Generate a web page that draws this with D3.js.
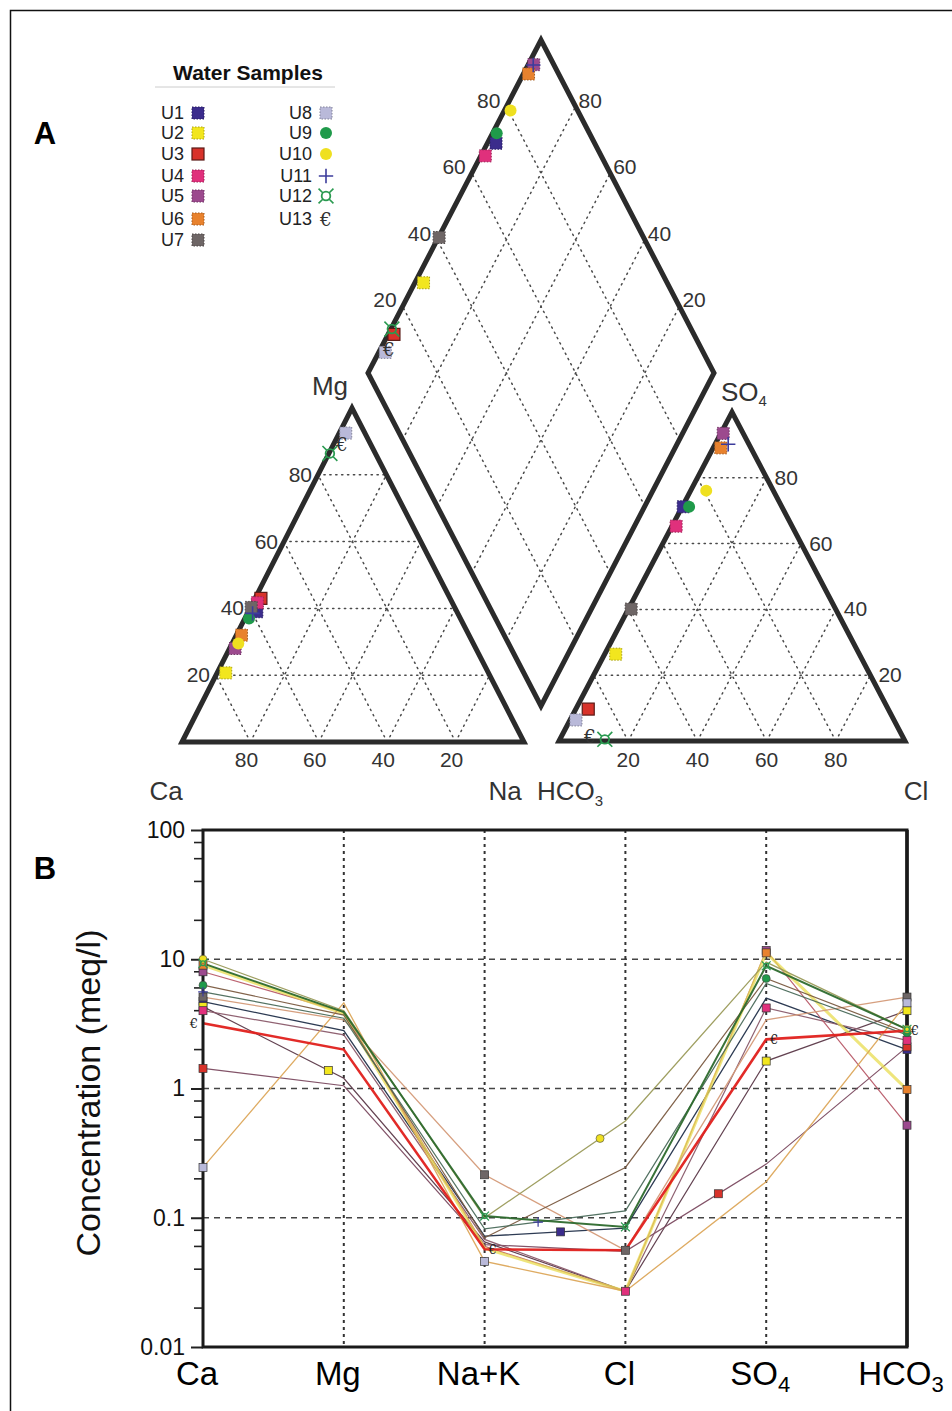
<!DOCTYPE html>
<html>
<head>
<meta charset="utf-8">
<script src="https://cdn.jsdelivr.net/npm/d3@7"></script>
<style>
body{margin:0;background:#fff;}
svg{display:block;font-family:"Liberation Sans",Arial,sans-serif;}
</style>
</head>
<body>
<svg id="chart" width="952" height="1411"></svg>
<script>
// ---- samples
var samples = ['U1','U2','U3','U4','U5','U6','U7','U8','U9','U10','U11','U12','U13'];
var colors  = ['#3b2c8c','#f2e61e','#d8322a','#e0307c','#9c4a8e','#e8822e','#6e6666','#b9b9d9','#1f9a4a','#efe020','#3c3c9c','#2a9a50','#333333'];
var shapes  = ['square','square','square','square','square','square','square','square','circle','circle','plus','ring','euro'];

// ---- piper, cations (%)
var catMg = [39, 20.7, 43, 41.7, 28, 32, 40.3, 92.5, 37, 29.5, 38.5, 86.4, 89];
var catNa = [2.5, 2.5, 1.7, 1.3, 1.6, 1.5, 0.2, 1.9, 1.2, 1.8, 1.5, 0.3, 2.5];
// ---- piper, anions (%)
var anSO4 = [71.2, 26.4, 9.7, 65.3, 93.5, 89.1, 40.1, 6.4, 71.2, 76.1, 90.2, 0.5, 1.3];
var anCl  = [0.3, 3.2, 3.6, 1.2, 0.7, 2.2, 0.8, 1.7, 2.0, 4.5, 3.8, 13, 8.3];
var piperTicks = [20, 40, 60, 80];

// ---- schoeller (meq/l)
var ions = ['Ca','Mg','Na+K','Cl','SO4','HCO3'];
var schCa   = [4.7, 4.3, 1.43, 4.0, 8.0, 9.0, 5.1, 0.245, 6.3, 10, 5.6, 9.3, 3.2];
var schMg   = [2.8, 1.2, 1.05, 2.6, 3.9, 3.8, 3.4, 4.6, 3.7, 4.0, 3.5, 3.9, 2.0];
var schNaK  = [0.072, 0.065, 0.062, 0.068, 0.06, 0.058, 0.215, 0.046, 0.07, 0.1, 0.082, 0.103, 0.057];
var schCl   = [0.083, 0.027, 0.055, 0.027, 0.027, 0.027, 0.056, 0.027, 0.245, 0.56, 0.113, 0.085, 0.056];
var schSO4  = [5.0, 1.63, 0.26, 4.2, 11.7, 11.2, 3.4, 0.19, 7.1, 9.5, 6.5, 8.9, 2.4];
var schHCO3 = [2.0, 4.0, 2.1, 2.36, 0.52, 0.98, 5.1, 4.6, 2.7, 2.87, 2.6, 2.87, 2.8];
var lineColors = ['#22304a','#5b3848','#7b4a60','#8a5a6a','#b85a68','#e8dc50','#d49a78','#dca65a','#7a5a40','#9a9a58','#4a6a5a','#2d6a2d','#e0201c'];
var lineWidths = [1.3, 1.2, 1.2, 1.2, 1.2, 3, 1.3, 1.3, 1.2, 1.3, 1.2, 2, 2.6];
// where the markers sit along each line (category index)
var markerPos = [[0,2.54,5],[0,0.89,4,5],[0,3.66,5],[0,3,4,5],[0,4,5],[0,4,5],[0,2,3,5],[0,2,5],[0,4,5],[0,2.82,5],[0,2.38],[0,2,3,4,5],[0,2,4,5]];
var yTicks = [0.01, 0.1, 1, 10, 100];

var svg = d3.select('#chart');
svg.append('rect').attr('x',10.5).attr('y',10.5).attr('width',950).attr('height',1410)
    .attr('fill','none').attr('stroke','#111').attr('stroke-width',1.5);

function marker(g, i, x, y, s, small){
    var shp = shapes[i], c = colors[i];
    if (shp == 'square'){
        var r = g.append('rect').attr('x',x-s/2).attr('y',y-s/2).attr('width',s).attr('height',s)
            .attr('fill',c);
        if (small) r.attr('stroke','#333').attr('stroke-width',0.7);
        else if (i == 2) r.attr('stroke','#5a1a16').attr('stroke-width',1.2);
        else r.attr('stroke',d3.color(c).darker(1)).attr('stroke-width',1).attr('stroke-dasharray','1.5,1.5');
    } else if (shp == 'circle'){
        g.append('circle').attr('cx',x).attr('cy',y).attr('r',s/2).attr('fill',c)
            .attr('stroke',small ? '#444' : 'none').attr('stroke-width',0.6);
    } else if (shp == 'plus'){
        var h = s*0.6;
        g.append('path').attr('d','M'+(x-h)+','+y+'H'+(x+h)+'M'+x+','+(y-h)+'V'+(y+h))
            .attr('stroke',c).attr('stroke-width',small ? 1.2 : 1.6);
    } else if (shp == 'ring'){
        var rr = small ? s*0.3 : s*0.36, k = small ? s*0.55 : s*0.62;
        g.append('circle').attr('cx',x).attr('cy',y).attr('r',rr).attr('fill','none')
            .attr('stroke',c).attr('stroke-width',small ? 1.3 : 1.8);
        g.append('path').attr('d','M'+(x-k)+','+(y-k)+'L'+(x-rr*0.7)+','+(y-rr*0.7)+
            'M'+(x+k)+','+(y-k)+'L'+(x+rr*0.7)+','+(y-rr*0.7)+
            'M'+(x-k)+','+(y+k)+'L'+(x-rr*0.7)+','+(y+rr*0.7)+
            'M'+(x+k)+','+(y+k)+'L'+(x+rr*0.7)+','+(y+rr*0.7))
            .attr('stroke',c).attr('stroke-width',small ? 1.2 : 1.6);
    } else {
        g.append('text').attr('x',x).attr('y',y).attr('dy','0.35em').attr('text-anchor','middle')
            .style('font-family','"DejaVu Serif",serif').style('font-size',(s*1.55)+'px').attr('fill',c).text('€');
    }
}

// ================= PIPER =================
var pct = d3.scaleLinear().domain([0,100]).range([0,1]);
function frame(o, u, v){
    // o + a*u + b*v, a and b in percent
    return function(a, b){ return [o[0]+pct(a)*u[0]+pct(b)*v[0], o[1]+pct(a)*u[1]+pct(b)*v[1]]; };
}
var catO = [182,742], catTop = [352,408], catR = [524,742];
var anO = [559,741], anTop = [732,412], anR = [905,741];
var dB = [541,706], dL = [368,373], dR = [714,373];
var cat = frame(catO, [catTop[0]-catO[0],catTop[1]-catO[1]], [catR[0]-catO[0],catR[1]-catO[1]]); // (Mg, Na)
var an  = frame(anO, [anTop[0]-anO[0],anTop[1]-anO[1]], [anR[0]-anO[0],anR[1]-anO[1]]);         // (SO4, Cl)
var dia = frame(dB, [dL[0]-dB[0],dL[1]-dB[1]], [dR[0]-dB[0],dR[1]-dB[1]]);                      // (100-Na, 100-HCO3)

var pip = svg.append('g');
var line = d3.line();
var grid = pip.append('g').attr('fill','none').attr('stroke','#4a4a4a').attr('stroke-width',1.5)
    .attr('stroke-dasharray','1.3,4.6').attr('stroke-linecap','round');
piperTicks.forEach(function(k){
    // cation triangle
    grid.append('path').attr('d',line([cat(k,0),cat(k,100-k)]));
    grid.append('path').attr('d',line([cat(0,100-k),cat(100-k,0)]));
    grid.append('path').attr('d',line([cat(0,k),cat(100-k,k)]));
    // anion triangle
    grid.append('path').attr('d',line([an(k,0),an(k,100-k)]));
    grid.append('path').attr('d',line([an(0,100-k),an(100-k,0)]));
    grid.append('path').attr('d',line([an(0,k),an(100-k,k)]));
    // diamond
    grid.append('path').attr('d',line([dia(k,0),dia(k,100)]));
    grid.append('path').attr('d',line([dia(0,k),dia(100,k)]));
});

var outline = pip.append('g').attr('fill','none').attr('stroke','#2b2b2b').attr('stroke-width',5)
    .attr('stroke-linejoin','miter');
outline.append('path').attr('d',line([cat(0,0),cat(100,0),cat(0,100)])+'Z');
outline.append('path').attr('d',line([an(0,0),an(100,0),an(0,100)])+'Z');
outline.append('path').attr('d',line([dia(0,0),dia(100,0),dia(100,100),dia(0,100)])+'Z');

var tl = pip.append('g').style('font-size','21px').attr('fill','#333');
piperTicks.forEach(function(k){
    var p = cat(k,0);
    tl.append('text').attr('x',p[0]-6).attr('y',p[1]+7).attr('text-anchor','end').text(k);
    p = cat(0,100-k);
    tl.append('text').attr('x',p[0]-4).attr('y',767).attr('text-anchor','middle').text(k);
    p = an(k,100-k);
    tl.append('text').attr('x',p[0]+8).attr('y',p[1]+7).text(k);
    p = an(0,k);
    tl.append('text').attr('x',p[0]).attr('y',767).attr('text-anchor','middle').text(k);
    p = dia(100,k);
    tl.append('text').attr('x',p[0]-6).attr('y',p[1]+1).attr('text-anchor','end').text(k);
    p = dia(k,100);
    tl.append('text').attr('x',p[0]+3).attr('y',p[1]+1).text(k);
});

var cl = pip.append('g').style('font-size','26px').attr('fill','#333');
cl.append('text').attr('x',330).attr('y',395).attr('text-anchor','middle').text('Mg');
cl.append('text').attr('x',166).attr('y',800).attr('text-anchor','middle').text('Ca');
cl.append('text').attr('x',505).attr('y',800).attr('text-anchor','middle').text('Na');
var hco = cl.append('text').attr('x',537).attr('y',800);
hco.append('tspan').text('HCO');
hco.append('tspan').attr('dy',6).style('font-size','15px').text('3');
cl.append('text').attr('x',916).attr('y',800).attr('text-anchor','middle').text('Cl');
var so = cl.append('text').attr('x',721).attr('y',401);
so.append('tspan').text('SO');
so.append('tspan').attr('dy',5).style('font-size','15px').text('4');

var pts = pip.append('g');
samples.forEach(function(s, i){
    var naP = catNa[i], hco3 = 100 - anSO4[i] - anCl[i];
    var p = cat(catMg[i], naP);
    marker(pts, i, p[0], p[1], 12);
    p = an(anSO4[i], anCl[i]);
    marker(pts, i, p[0], p[1], 12);
    p = dia(100 - naP, 100 - hco3);
    marker(pts, i, p[0], p[1], 12);
});

// legend
var lg = svg.append('g');
lg.append('text').attr('x',248).attr('y',80).attr('text-anchor','middle')
    .style('font-size','21px').style('font-weight','bold').attr('fill','#111').text('Water Samples');
lg.append('line').attr('x1',155).attr('x2',335).attr('y1',87).attr('y2',87).attr('stroke','#ccc');
var legY = [113,133,154,176,196,219,240];
samples.forEach(function(s, i){
    var col = i < 7 ? 0 : 1, y = legY[col ? i-7 : i];
    lg.append('text').attr('x',col ? 312 : 184).attr('y',y+6).attr('text-anchor','end')
        .style('font-size','18px').attr('fill','#222').text(s);
    marker(lg, i, col ? 326 : 198, y, 12);
});

svg.append('text').attr('x',45).attr('y',144).attr('text-anchor','middle')
    .style('font-size','31px').style('font-weight','bold').text('A');
svg.append('text').attr('x',45).attr('y',879).attr('text-anchor','middle')
    .style('font-size','31px').style('font-weight','bold').text('B');

// ================= SCHOELLER =================
var x = d3.scalePoint().domain(ions).range([203,907]);
var xi = d3.scaleLinear().domain([0, ions.length-1]).range([203,907]);
var y = d3.scaleLog().domain([0.01,100]).range([1347,830]);
var series = samples.map(function(s, i){
    return [schCa[i], schMg[i], schNaK[i], schCl[i], schSO4[i], schHCO3[i]];
});

var sg = svg.append('g');
sg.selectAll('.hg').data([0.1,1,10]).enter().append('line')
    .attr('x1',203).attr('x2',907).attr('y1',d=>y(d)).attr('y2',d=>y(d))
    .attr('stroke','#444').attr('stroke-width',1.5).attr('stroke-dasharray','6,5');
sg.selectAll('.vg').data(ions.slice(1,5)).enter().append('line')
    .attr('x1',d=>x(d)).attr('x2',d=>x(d)).attr('y1',830).attr('y2',1347)
    .attr('stroke','#333').attr('stroke-width',2).attr('stroke-dasharray','3,4');

var sl = d3.line().x((d,j)=>x(ions[j])).y(d=>y(d));
sg.selectAll('.sline').data(series).enter().append('path')
    .attr('d',sl).attr('fill','none')
    .attr('stroke',(d,i)=>lineColors[i]).attr('stroke-width',(d,i)=>lineWidths[i])
    .attr('stroke-opacity',(d,i)=> i == 5 ? 0.75 : 0.95);

// frame
var yAxis = d3.axisLeft(y).tickValues(yTicks).tickFormat(d3.format('~g')).tickSize(12).tickPadding(6);
var ag = sg.append('g').attr('transform','translate(203,0)').call(yAxis);
ag.select('.domain').remove();
ag.selectAll('.tick line').attr('stroke','#222').attr('stroke-width',2);
ag.selectAll('.tick text').style('font-size','23px').attr('fill','#111')
    .style('font-family','"Liberation Sans",Arial,sans-serif');
var minor = [];
yTicks.slice(0,4).forEach(function(d){ [2,4,6,8].forEach(function(m){ minor.push(d*m); }); });
sg.selectAll('.mt').data(minor).enter().append('line')
    .attr('x1',194).attr('x2',203).attr('y1',d=>y(d)).attr('y2',d=>y(d))
    .attr('stroke','#222').attr('stroke-width',1.6);
sg.append('path').attr('d','M203,830H907V1347H203Z').attr('fill','none').attr('stroke','#1a1a1a').attr('stroke-width',3);
sg.append('line').attr('x1',907).attr('x2',907).attr('y1',830).attr('y2',1347).attr('stroke','#1a1a1a').attr('stroke-width',3.5);

// markers along lines
var mk = sg.append('g');
series.forEach(function(vals, i){
    markerPos[i].forEach(function(f){
        var j = Math.min(Math.floor(f), vals.length-2), t = f - j;
        var v = Math.pow(10, d3.interpolateNumber(Math.log10(vals[j]), Math.log10(vals[j+1]))(t));
        var px = xi(f), py = y(v);
        if (shapes[i] == 'euro'){
            mk.append('text').attr('x', f == 0 ? px-9 : px+8).attr('y',py).attr('dy','0.35em')
                .attr('text-anchor','middle').style('font-family','"DejaVu Serif",serif')
                .style('font-size','13px').attr('fill','#222').text('€');
        } else {
            marker(mk, i, px, py, 8, true);
        }
    });
});

// labels
var xl = sg.append('g').style('font-size','33px').attr('fill','#000');
var ionMain = ['Ca','Mg','Na+K','Cl','SO','HCO'];
var ionSub = ['','','','','4','3'];
ions.forEach(function(d, j){
    var t = xl.append('text').attr('x',x(d)-6).attr('y',1385).attr('text-anchor','middle');
    t.append('tspan').text(ionMain[j]);
    if (ionSub[j]) t.append('tspan').attr('dy',7).style('font-size','22px').text(ionSub[j]);
});
sg.append('text').attr('transform','translate(100,1093) rotate(-90)').attr('text-anchor','middle')
    .style('font-size','34px').attr('fill','#111').text('Concentration (meq/l)');
</script>
</body>
</html>
